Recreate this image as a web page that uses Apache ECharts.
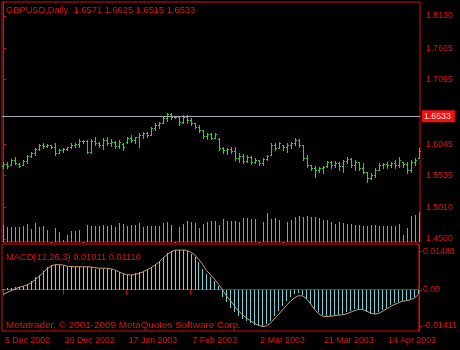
<!DOCTYPE html>
<html><head><meta charset="utf-8">
<script src="https://cdn.jsdelivr.net/npm/echarts@6/dist/echarts.min.js"></script>
<style>html,body{margin:0;padding:0;background:#000;}#c{width:460px;height:350px;}</style>
</head><body><div id="c"></div>
<script>
// ---- data ----
const openP = [1.5688,1.5721,1.5705,1.5786,1.5721,1.5705,1.5770,1.5851,1.5900,1.5965,
1.6030,1.6014,1.6030,1.5998,1.5900,1.5949,1.5965,1.5998,1.6030,1.6046,
1.6095,1.6095,1.5916,1.6095,1.6063,1.6030,1.6112,1.6063,1.6079,1.6014,
1.6046,1.6079,1.6144,1.6112,1.6160,1.6193,1.6226,1.6193,1.6307,1.6356,
1.6388,1.6470,1.6535,1.6486,1.6478,1.6405,1.6486,1.6437,1.6388,1.6323,
1.6274,1.6177,1.6209,1.6144,1.6128,1.5981,1.5949,1.5965,1.5932,1.5819,
1.5851,1.5770,1.5835,1.5753,1.5786,1.5737,1.5802,1.5867,1.6030,1.5981,
1.6030,1.5998,1.6030,1.6063,1.6112,1.6030,1.5819,1.5705,1.5656,1.5623,
1.5656,1.5688,1.5753,1.5705,1.5737,1.5688,1.5770,1.5802,1.5705,1.5753,
1.5656,1.5591,1.5493,1.5542,1.5623,1.5705,1.5721,1.5705,1.5737,1.5705,
1.5753,1.5721,1.5623,1.5753,1.5819];
const closeP = [1.5721,1.5688,1.5786,1.5737,1.5688,1.5770,1.5851,1.5900,1.5965,1.6030,
1.6014,1.6030,1.5998,1.5900,1.5949,1.5965,1.5998,1.6030,1.6046,1.6095,
1.6095,1.5916,1.6095,1.6063,1.6030,1.6112,1.6063,1.6079,1.6014,1.6079,
1.5998,1.6144,1.6112,1.6160,1.6193,1.6226,1.6193,1.6307,1.6356,1.6388,
1.6470,1.6535,1.6486,1.6478,1.6405,1.6486,1.6437,1.6388,1.6323,1.6274,
1.6177,1.6209,1.6144,1.6209,1.5981,1.5949,1.5965,1.5932,1.5819,1.5851,
1.5770,1.5835,1.5753,1.5786,1.5737,1.5802,1.5851,1.6030,1.5981,1.6063,
1.5998,1.6030,1.6063,1.6112,1.6030,1.5819,1.5705,1.5656,1.5623,1.5656,
1.5672,1.5753,1.5705,1.5737,1.5688,1.5770,1.5802,1.5705,1.5753,1.5656,
1.5591,1.5493,1.5542,1.5623,1.5705,1.5721,1.5705,1.5737,1.5705,1.5786,
1.5721,1.5623,1.5753,1.5786,1.5932];
const highP = [1.5758,1.5753,1.5797,1.5830,1.5732,1.5786,1.5867,1.5921,1.5976,1.6046,
1.6058,1.6041,1.6030,1.6058,1.5960,1.5976,1.6002,1.6058,1.6068,1.6123,
1.6112,1.6112,1.6123,1.6156,1.6084,1.6139,1.6156,1.6123,1.6100,1.6112,
1.6058,1.6156,1.6193,1.6165,1.6221,1.6247,1.6237,1.6328,1.6383,1.6409,
1.6502,1.6556,1.6556,1.6491,1.6502,1.6519,1.6519,1.6465,1.6393,1.6356,
1.6274,1.6230,1.6221,1.6230,1.6139,1.6002,1.5976,1.6002,1.6002,1.5895,
1.5879,1.5867,1.5851,1.5814,1.5786,1.5814,1.5867,1.6058,1.6068,1.6084,
1.6030,1.6058,1.6084,1.6139,1.6123,1.6030,1.5867,1.5705,1.5688,1.5677,
1.5688,1.5770,1.5770,1.5770,1.5758,1.5786,1.5830,1.5814,1.5786,1.5758,
1.5732,1.5595,1.5569,1.5651,1.5732,1.5742,1.5758,1.5758,1.5786,1.5830,
1.5758,1.5758,1.5786,1.5814,1.5976];
const lowP = [1.5651,1.5656,1.5705,1.5721,1.5667,1.5705,1.5742,1.5840,1.5867,1.5949,
1.5976,1.5993,1.5976,1.5867,1.5895,1.5921,1.5949,1.5976,1.6002,1.6002,
1.6068,1.5895,1.5905,1.6030,1.6002,1.5960,1.6030,1.6014,1.5976,1.5976,
1.5949,1.6058,1.6084,1.6058,1.6002,1.6139,1.6165,1.6193,1.6274,1.6302,
1.6383,1.6426,1.6449,1.6465,1.6356,1.6383,1.6393,1.6356,1.6302,1.6247,
1.6139,1.6123,1.6123,1.6139,1.5949,1.5895,1.5884,1.5895,1.5786,1.5758,
1.5732,1.5758,1.5721,1.5732,1.5705,1.5705,1.5786,1.5867,1.5949,1.5976,
1.5949,1.5921,1.5976,1.6030,1.6002,1.5786,1.5677,1.5623,1.5514,1.5595,
1.5579,1.5677,1.5651,1.5677,1.5623,1.5595,1.5732,1.5677,1.5623,1.5623,
1.5569,1.5433,1.5472,1.5514,1.5623,1.5651,1.5651,1.5677,1.5651,1.5677,
1.5677,1.5579,1.5595,1.5705,1.5814];
const volume = [1700,1530,1470,1530,1530,1600,1770,1300,1870,1470,
1600,1200,30,1370,970,200,700,1100,1100,1200,
30,1700,1600,1600,1600,1700,1600,1700,1530,1870,
1770,1630,1700,1700,1930,1530,1630,1600,1630,1630,
1930,2030,1700,30,1530,1770,2100,2030,1870,1370,
1800,1970,2100,2100,1700,2300,2100,2100,2100,2030,
2370,2370,2270,2270,30,1970,2870,2300,2370,2200,
30,1970,2200,2470,2600,2530,2600,2530,2470,2370,
2200,2200,2030,1800,2030,1870,1800,1770,1700,1700,
1600,1630,1700,1700,1630,1600,1630,1630,1600,1800,
700,1370,2600,2700,2970];
const macdMain = [0.0002,0.0004,0.0006,0.0008,0.0010,0.0014,0.0019,0.0028,0.0042,0.0051,
0.0065,0.0076,0.0085,0.0085,0.0085,0.0082,0.0078,0.0078,0.0078,0.0078,
0.0078,0.0078,0.0076,0.0072,0.0072,0.0072,0.0072,0.0070,0.0064,0.0059,
0.0053,0.0051,0.0051,0.0055,0.0059,0.0064,0.0070,0.0078,0.0087,0.0098,
0.0110,0.0124,0.0133,0.0136,0.0136,0.0136,0.0133,0.0121,0.0110,0.0093,
0.0070,0.0053,0.0042,0.0028,0.0013,-0.0026,-0.0043,-0.0061,-0.0078,-0.0089,
-0.0100,-0.0108,-0.0115,-0.0121,-0.0123,-0.0123,-0.0117,-0.0106,-0.0089,-0.0072,
-0.0055,-0.0038,-0.0026,-0.0015,-0.0013,-0.0017,-0.0032,-0.0049,-0.0066,-0.0078,
-0.0086,-0.0089,-0.0089,-0.0087,-0.0086,-0.0083,-0.0078,-0.0072,-0.0066,-0.0066,
-0.0070,-0.0078,-0.0083,-0.0083,-0.0078,-0.0070,-0.0061,-0.0053,-0.0047,-0.0043,
-0.0038,-0.0035,-0.0032,-0.0026,-0.0015];
const macdSignal = [-0.0017,-0.0010,-0.0004,0.0002,0.0008,0.0011,0.0016,0.0023,0.0033,0.0044,
0.0057,0.0070,0.0080,0.0085,0.0085,0.0084,0.0080,0.0079,0.0078,0.0078,
0.0078,0.0078,0.0077,0.0075,0.0073,0.0073,0.0073,0.0071,0.0067,0.0061,
0.0055,0.0051,0.0050,0.0051,0.0055,0.0060,0.0067,0.0074,0.0083,0.0093,
0.0106,0.0118,0.0128,0.0134,0.0135,0.0135,0.0134,0.0128,0.0119,0.0104,
0.0087,0.0065,0.0051,0.0036,0.0019,0.0000,-0.0021,-0.0038,-0.0055,-0.0072,
-0.0086,-0.0097,-0.0106,-0.0115,-0.0122,-0.0126,-0.0124,-0.0115,-0.0100,-0.0086,
-0.0070,-0.0055,-0.0040,-0.0029,-0.0021,-0.0021,-0.0030,-0.0047,-0.0066,-0.0081,
-0.0090,-0.0092,-0.0091,-0.0089,-0.0087,-0.0086,-0.0083,-0.0078,-0.0072,-0.0068,
-0.0067,-0.0072,-0.0079,-0.0083,-0.0082,-0.0075,-0.0067,-0.0059,-0.0051,-0.0046,
-0.0040,-0.0038,-0.0035,-0.0030,-0.0018];
const dateLabels = ['5 Dec 2002','26 Dec 2002','17 Jan 2003','7 Feb 2003','2 Mar 2003','21 Mar 2003','14 Apr 2003'];
const dateLabelBars = [0,15,31,47,64,80,96];
const priceTicks = [1.4500,1.5010,1.5535,1.6045,1.7095,1.7605,1.8130];
const macdTicks = [0.01488,0,-0.01411];
const lastPrice = 1.6533;
const headerText = 'GBPUSD,Daily  1.6571 1.6625 1.6515 1.6533';
const macdText = 'MACD(12,26,3) 0.01011 0.01110';
const copyText = 'Metatrader, \u00A9 2001-2009 MetaQuotes Software Corp.';

// ---- styling ----
const RED = '#E01414', LINE = '#D41010';
const BAR = '#44C844', VOL = '#5EC45E', HIST = '#74D2DA', SIG = '#D0A070';
const FONT = '"Liberation Sans", Arial, sans-serif';
const N = openP.length;

const ohlc = [], vol = [], hist = [], sig = [];
for (let i = 0; i < N; i++) {
  ohlc.push([i, openP[i], closeP[i], lowP[i], highP[i]]);
  vol.push([i, volume[i]]);
  hist.push([i, macdMain[i]]);
  sig.push([i, macdSignal[i]]);
}

function ohlcItem(params, api) {
  const x = api.value(0);
  const pO = api.coord([x, api.value(1)]);
  const pC = api.coord([x, api.value(2)]);
  const pL = api.coord([x, api.value(3)]);
  const pH = api.coord([x, api.value(4)]);
  const cx = Math.round(pH[0]);
  const yH = Math.round(pH[1]), yL = Math.round(pL[1]);
  const st = {fill: BAR, stroke: null};
  return {type: 'group', children: [
    {type: 'rect', shape: {x: cx, y: yH, width: 1, height: Math.max(1, yL - yH + 1)}, style: st},
    {type: 'rect', shape: {x: cx - 1, y: Math.round(pO[1]), width: 1, height: 1}, style: st},
    {type: 'rect', shape: {x: cx + 1, y: Math.round(pC[1]), width: 1, height: 1}, style: st}
  ]};
}
function stickItem(color) {
  return function (params, api) {
    const p = api.coord([api.value(0), api.value(1)]);
    const b = api.coord([api.value(0), 0]);
    const cx = Math.round(p[0]);
    const y1 = Math.round(Math.min(p[1], b[1])), y2 = Math.round(Math.max(p[1], b[1]));
    return {type: 'group', children: [
      {type: 'rect', shape: {x: cx, y: y1, width: 1, height: Math.max(1, y2 - y1)}, style: {fill: color, stroke: null}}
    ]};
  };
}

const chart = echarts.init(document.getElementById('c'), null, {renderer: 'canvas'});
const txt = (t, top, size) => ({text: t, left: 6, top: top, padding: 0,
  textStyle: {color: RED, fontSize: size, fontWeight: 'normal', fontFamily: FONT, lineHeight: 11}});

chart.setOption({
  backgroundColor: '#000',
  animation: false,
  title: [txt(headerText, 5, 9.3), txt(macdText, 252, 9.3), txt(copyText, 319.5, 9.9)],
  grid: [
    {left: 2, top: 2, right: 40, height: 240, show: true, borderColor: LINE, borderWidth: 1, backgroundColor: '#000'},
    {left: 2, top: 244, right: 40, height: 87, show: true, borderColor: LINE, borderWidth: 1, backgroundColor: '#000'}
  ],
  xAxis: [
    {type: 'value', gridIndex: 0, min: -0.25, max: N - 0.75, show: false, splitLine: {show: false}},
    {type: 'value', gridIndex: 1, min: -0.25, max: N - 0.75, splitLine: {show: false},
     axisLine: {show: true, lineStyle: {color: LINE}},
     axisTick: {show: true, length: 5, lineStyle: {color: LINE}, customValues: dateLabelBars},
     axisLabel: {customValues: dateLabelBars, color: RED, fontSize: 8.8, fontFamily: FONT, align: 'left', margin: 5, padding: [0, 0, 0, 2],
       formatter: v => { const i = dateLabelBars.indexOf(Math.round(v)); return i >= 0 ? dateLabels[i] : ''; }}}
  ],
  yAxis: [
    {type: 'value', gridIndex: 0, position: 'right', min: 1.44512, max: 1.83580, splitLine: {show: false},
     axisLine: {show: true, lineStyle: {color: LINE}},
     axisTick: {show: true, length: 3, lineStyle: {color: LINE}, customValues: priceTicks},
     axisLabel: {customValues: priceTicks, color: RED, fontSize: 8.8, fontFamily: FONT, margin: 6, formatter: v => v.toFixed(4)}},
    {type: 'value', gridIndex: 0, min: 0, max: 24000, show: false, splitLine: {show: false}},
    {type: 'value', gridIndex: 1, min: -0.01411, max: 0.01556, show: false, splitLine: {show: false}},
    {type: 'value', gridIndex: 1, position: 'right', min: -0.01606, max: 0.01788, splitLine: {show: false},
     axisLine: {show: true, lineStyle: {color: LINE}},
     axisTick: {show: true, length: 3, lineStyle: {color: LINE}, customValues: macdTicks},
     axisLabel: {customValues: macdTicks, color: RED, fontSize: 8.8, fontFamily: FONT, margin: 4,
       formatter: v => v === 0 ? '0.00' : v.toFixed(5)}}
  ],
  series: [
    {type: 'custom', name: 'Volume', xAxisIndex: 0, yAxisIndex: 1, renderItem: stickItem(VOL), data: vol,
     encode: {x: 0, y: 1}, silent: true, itemStyle: {color: VOL}},
    {type: 'custom', name: 'GBPUSD', xAxisIndex: 0, yAxisIndex: 0, renderItem: ohlcItem, data: ohlc,
     encode: {x: 0, y: [1, 2, 3, 4]}, silent: true, itemStyle: {color: BAR},
     markLine: {silent: true, symbol: 'none', data: [{yAxis: lastPrice}],
       lineStyle: {color: '#A8A8B4', width: 1, type: 'solid'},
       label: {show: true, position: 'end', distance: 2, formatter: () => lastPrice.toFixed(4),
         color: '#FFE4E4', backgroundColor: '#F01010', padding: [2, 4, 1, 2], fontSize: 8.8, fontFamily: FONT}}},
    {type: 'custom', name: 'MACD', xAxisIndex: 1, yAxisIndex: 2, renderItem: stickItem(HIST), data: hist,
     encode: {x: 0, y: 1}, silent: true, itemStyle: {color: HIST}},
    {type: 'line', name: 'Signal', xAxisIndex: 1, yAxisIndex: 2, data: sig, symbol: 'none', silent: true,
     itemStyle: {color: SIG}, lineStyle: {color: SIG, width: 1}}
  ]
});
</script></body></html>
